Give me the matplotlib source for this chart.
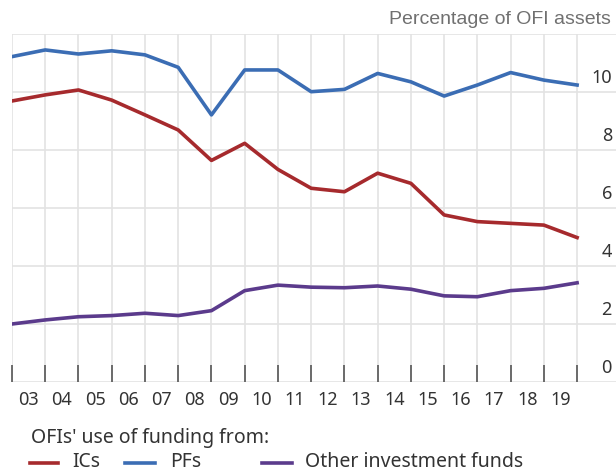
import matplotlib
matplotlib.use('Agg')
import matplotlib.pyplot as plt
from matplotlib.lines import Line2D

plt.rcParams['font.family'] = ['Noto Sans', 'DejaVu Sans']
plt.rcParams['font.size'] = 12.5

# year-end positions, 2003 tick .. 2020 tick
years = list(range(2003, 2021))
ics = [9.68, 9.89, 10.06, 9.71, 9.20, 8.68, 7.63, 8.22, 7.32, 6.67,
       6.55, 7.19, 6.84, 5.75, 5.52, 5.46, 5.40, 4.97]
pfs = [11.21, 11.44, 11.30, 11.41, 11.27, 10.84, 9.20, 10.75, 10.75, 10.00,
       10.08, 10.63, 10.34, 9.85, 10.23, 10.66, 10.40, 10.23]
other = [1.99, 2.13, 2.24, 2.28, 2.36, 2.28, 2.45, 3.14, 3.33, 3.26,
         3.24, 3.30, 3.19, 2.96, 2.93, 3.14, 3.22, 3.41]
year_labels = ['03', '04', '05', '06', '07', '08', '09', '10', '11', '12',
               '13', '14', '15', '16', '17', '18', '19']
yticks = [0, 2, 4, 6, 8, 10]
series_names = ['ICs', 'PFs', 'Other investment funds']

red = '#a62a2d'
blue = '#3b6db4'
purple = '#5b3b8c'
grid_c = '#e3e3e3'
text_c = '#333333'
W, H = 616, 473

fig = plt.figure(figsize=(6.16, 4.73), dpi=100)
ax = fig.add_axes([12 / W, (H - 381.7) / H, 604 / W, 348 / H])

ax.set_xlim(2003, 2021.17)
ax.set_ylim(0, 12)

for s in ax.spines.values():
    s.set_visible(False)

# grid
for y in range(0, 13, 2):
    ax.axhline(y, color=grid_c, lw=1.2, zorder=0)
for x in years:
    ax.axvline(x, color=grid_c, lw=1.2, zorder=0)

colors = [red, blue, purple]
for vals, c, name in zip([ics, pfs, other], colors, series_names):
    ax.plot(years, vals, color=c, lw=2.6, label=name, solid_joinstyle='round')

# x ticks at year boundaries, labels centred between them
ax.set_xticks(years)
ax.set_xticklabels([])
ax.set_xticks([y + 0.5 for y in years[:-1]], minor=True)
ax.set_xticklabels(year_labels, minor=True, color=text_c, fontsize=13)
ax.tick_params(axis='x', which='major', direction='in', length=12.5,
               width=1.2, color='#555555')
ax.tick_params(axis='x', which='minor', length=0, pad=7)

ax.set_yticks([])
for v in yticks:
    ax.annotate(str(v), xy=(1, v), xycoords=('axes fraction', 'data'),
                xytext=(-4, 5), textcoords='offset pixels',
                ha='right', va='bottom', color=text_c, fontsize=13)

fig.text(611 / W, 1 - 20 / H, 'Percentage of OFI assets',
         ha='right', va='center', color='#707070',
         family=['Liberation Sans', 'DejaVu Sans'], fontsize=14)

# legend drawn by hand
fig.text(31 / W, 1 - 438 / H, "OFIs' use of funding from:",
         ha='left', va='center', color=text_c, fontsize=14)
line_x = [(30, 58), (125, 155), (262, 292)]
text_x = [72, 170, 305]
for (x0, x1), tx, c, name in zip(line_x, text_x, colors, series_names):
    fig.add_artist(Line2D([x0 / W, x1 / W], [1 - 463 / H, 1 - 463 / H],
                          color=c, lw=2.6, transform=fig.transFigure))
    fig.text(tx / W, 1 - 462 / H, name, ha='left', va='center',
             color=text_c, fontsize=14)

plt.savefig('out.png', dpi=100)
print("Done.")
